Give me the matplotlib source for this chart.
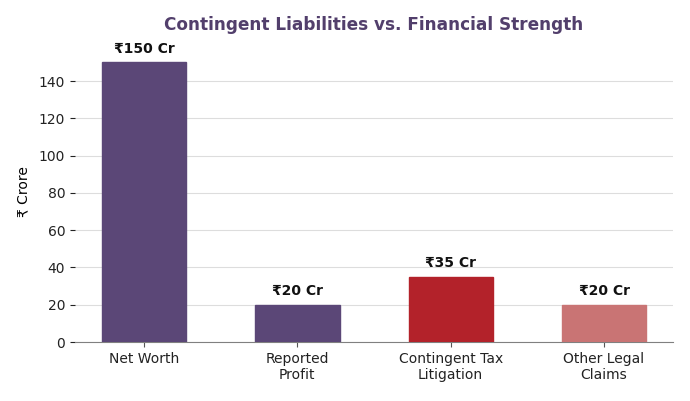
import matplotlib
matplotlib.use("Agg")
import matplotlib.pyplot as plt

categories = ["Net Worth", "Reported\nProfit", "Contingent Tax\nLitigation", "Other Legal\nClaims"]
values = [150, 20, 35, 20]
labels = ["₹150 Cr", "₹20 Cr", "₹35 Cr", "₹20 Cr"]
colors = ["#5b4777", "#5b4777", "#b3222a", "#c97474"]

fig = plt.figure(figsize=(6.9, 4.01), dpi=100)
ax = fig.add_axes([0.1087, 0.147, 0.8667, 0.753])

x = range(len(categories))
bars = ax.bar(x, values, width=0.55, color=colors, edgecolor=colors, zorder=3)
for xi, v, lab in zip(x, values, labels):
    ax.text(xi, v + 3.5, lab, ha="center", va="bottom", fontsize=10, fontweight="bold", color="#111111")

ax.set_xticks(list(x))
ax.set_xticklabels(categories, fontsize=10, color="#222222")
ax.set_xlim(-0.45, 3.45)
ax.set_ylim(0, 162)
ax.set_yticks(range(0, 141, 20))
ax.tick_params(axis="y", labelsize=10, colors="#222222")
ax.tick_params(axis="x", colors="#555555", labelcolor="#222222")
ax.set_ylabel("₹ Crore", fontsize=10, labelpad=6)
ax.grid(axis="y", color="#dddddd", linewidth=0.8, zorder=0)
ax.set_axisbelow(True)
for s in ["top", "right", "left"]:
    ax.spines[s].set_visible(False)
ax.spines["bottom"].set_color("#808080")
ax.set_title("Contingent Liabilities vs. Financial Strength", fontsize=12.2, fontweight="bold", color="#523f6c", pad=7)

fig.savefig("out.png", dpi=100)
